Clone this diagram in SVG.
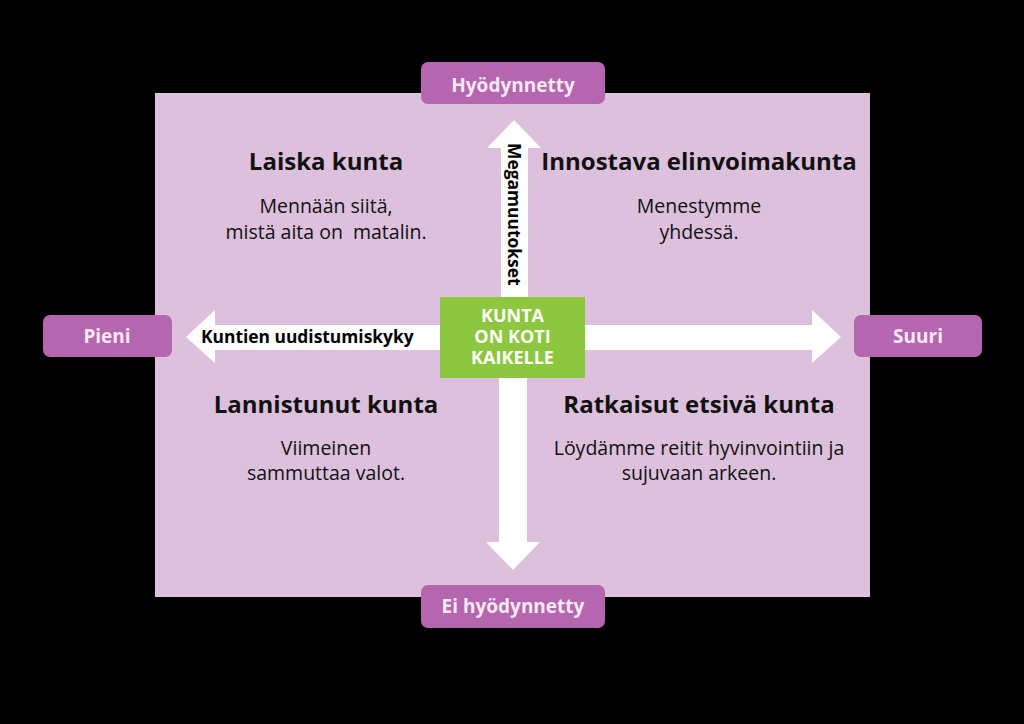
<svg xmlns="http://www.w3.org/2000/svg" width="1024" height="724" viewBox="0 0 1024 724">
<style>
.lbl{fill:#b466ae}
.lt{font-family:"Open Sans","Liberation Sans",sans-serif;font-weight:700;font-size:19px;fill:#f6e8f4;text-anchor:middle}
.h{font-family:"Open Sans","Liberation Sans",sans-serif;font-weight:700;font-size:24px;fill:#111;text-anchor:middle}
.b{font-family:"Open Sans","Liberation Sans",sans-serif;font-size:19.5px;fill:#111;text-anchor:middle}
.ax{font-family:"Open Sans","Liberation Sans",sans-serif;font-weight:700;font-size:17.4px;fill:#000}
.g{font-family:"Open Sans","Liberation Sans",sans-serif;font-weight:700;font-size:18px;fill:#fff;text-anchor:middle}
.arr{fill:#fff}
</style>
<rect width="1024" height="724" fill="#000"/>
<rect id="field" x="155" y="93" width="715" height="504" fill="#dcc0dc"/>
<g id="connectors">
<polygon class="arr" points="514,120 541,148 528,148 528,297 501,297 501,148 487,148"/>
<polygon class="arr" points="513,570 540,542 527,542 527,378 499,378 499,542 486,542"/>
<polygon class="arr" points="186,337 215,310 215,325 440,325 440,350 215,350 215,363"/>
<polygon class="arr" points="841,337 812,310 812,325 585,325 585,350 812,350 812,363"/>
<text class="ax" x="201" y="343">Kuntien uudistumiskyky</text>
<text class="ax" transform="translate(508,143) rotate(90)">Megamuutokset</text>
</g>
<g id="center">
<rect x="440" y="297" width="145" height="81" fill="#8dc63f"/>
<text class="g" x="512.5" y="322">KUNTA</text>
<text class="g" x="512.5" y="343">ON KOTI</text>
<text class="g" x="512.5" y="364">KAIKELLE</text>
</g>
<g id="top-label">
<rect class="lbl" x="421" y="62" width="184" height="42" rx="7"/>
<text class="lt" x="513" y="92">Hyödynnetty</text>
</g>
<g id="bottom-label">
<rect class="lbl" x="421" y="585" width="184" height="43" rx="7"/>
<text class="lt" x="513" y="613">Ei hyödynnetty</text>
</g>
<g id="left-label">
<rect class="lbl" x="43" y="315" width="129" height="42" rx="7"/>
<text class="lt" x="107" y="343">Pieni</text>
</g>
<g id="right-label">
<rect class="lbl" x="854" y="315" width="128" height="42" rx="7"/>
<text class="lt" x="918" y="343">Suuri</text>
</g>
<g id="q-top-left">
<text class="h" x="326" y="170">Laiska kunta</text>
<text class="b" x="326" y="213">Mennään siitä,</text>
<text class="b" x="326" y="239" xml:space="preserve">mistä aita on  matalin.</text>
</g>
<g id="q-top-right">
<text class="h" x="699" y="170">Innostava elinvoimakunta</text>
<text class="b" x="699" y="213">Menestymme</text>
<text class="b" x="699" y="239">yhdessä.</text>
</g>
<g id="q-bottom-left">
<text class="h" x="326" y="413">Lannistunut kunta</text>
<text class="b" x="326" y="455">Viimeinen</text>
<text class="b" x="326" y="480">sammuttaa valot.</text>
</g>
<g id="q-bottom-right">
<text class="h" x="699" y="413">Ratkaisut etsivä kunta</text>
<text class="b" x="699" y="455">Löydämme reitit hyvinvointiin ja</text>
<text class="b" x="699" y="480">sujuvaan arkeen.</text>
</g>
</svg>
